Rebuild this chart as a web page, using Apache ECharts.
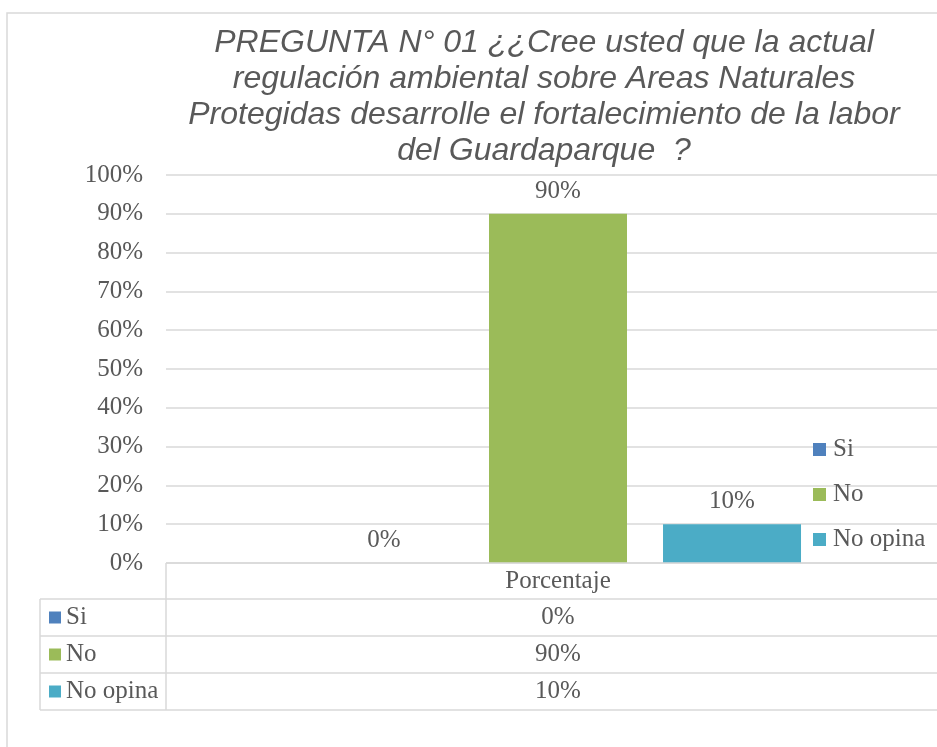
<!DOCTYPE html>
<html>
<head>
<meta charset="utf-8">
<script src="https://cdn.jsdelivr.net/npm/echarts@6/dist/echarts.min.js"></script>
<style>
html,body{margin:0;padding:0;background:#fff;}
#chart{width:937px;height:747px;}
</style>
</head>
<body>
<div id="chart"></div>
<script>
// ---- data ----
const titleText = 'PREGUNTA N° 01 ¿¿Cree usted que la actual\nregulación ambiental sobre Areas Naturales\nProtegidas desarrolle el fortalecimiento de la labor\ndel Guardaparque  ?';
const categories = ['Porcentaje'];
const seriesNames = ['Si', 'No', 'No opina'];
const seriesValues = [0, 90, 10];
const yTickMin = 0, yTickMax = 100, yTickStep = 10;

// ---- style ----
const colors = ['#4F81BD', '#9BBB59', '#4BACC6'];
const textColor = '#595959';
const lineColor = '#d9d9d9';
const serif = 'Liberation Serif';
const fs = 25;
const gridLeft = 166, gridTop = 175, gridBottom = 184;
const barGridLeft = 179; // plot area continues past the right edge of the picture
const headerH = 36, rowH = 37, tableLeft = 40;

const chart = echarts.init(document.getElementById('chart'));

const series = seriesNames.map((n, i) => ({
  name: n,
  type: 'bar',
  xAxisIndex: 1, yAxisIndex: 1,
  data: [seriesValues[i]],
  barWidth: 138,
  barGap: '26.1%',
  itemStyle: { color: colors[i] },
  label: {
    show: true, position: 'top', distance: 10,
    formatter: p => p.value + '%',
    color: textColor, fontFamily: serif, fontSize: fs
  }
}));

const yBase = { type: 'value', min: yTickMin, max: yTickMax, interval: yTickStep,
  axisLine: { show: false }, axisTick: { show: false } };

chart.setOption({
  animation: false,
  backgroundColor: '#fff',
  title: {
    text: titleText,
    left: 544, top: 25, padding: 0,
    textAlign: 'center',
    textStyle: {
      fontFamily: 'Liberation Sans', fontStyle: 'italic', fontWeight: 'normal',
      fontSize: 32, lineHeight: 36, color: textColor
    }
  },
  legend: {
    orient: 'vertical', left: 813, top: 437, padding: 0,
    itemWidth: 13, itemHeight: 13, itemGap: 20,
    icon: 'rect',
    data: seriesNames,
    textStyle: { fontFamily: serif, fontSize: fs, lineHeight: 24, color: textColor, padding: [0, 0, 0, 2] }
  },
  grid: [
    { left: gridLeft, right: 0, top: gridTop, bottom: gridBottom, containLabel: false },
    { left: barGridLeft, right: 0, top: gridTop, bottom: gridBottom, containLabel: false }
  ],
  xAxis: [
    { type: 'category', gridIndex: 0, data: categories, show: false },
    { type: 'category', gridIndex: 1, data: categories, show: false }
  ],
  yAxis: [
    Object.assign({}, yBase, { gridIndex: 0,
      axisLabel: { formatter: '{value}%', margin: 23, fontFamily: serif, fontSize: fs, color: textColor },
      splitLine: { lineStyle: { color: lineColor, width: 1.5 } } }),
    Object.assign({}, yBase, { gridIndex: 1, show: false, splitLine: { show: false } })
  ],
  series: series
});

// ---- data table under the axis ----
const cx = chart.convertToPixel({ xAxisIndex: 1 }, categories[0]);
const base = chart.convertToPixel({ yAxisIndex: 0 }, 0);
const W = 1100;
const g = [];
g.push({ type: 'rect', shape: { x: 7, y: 13, width: 1000, height: 800 },
  style: { fill: null, stroke: lineColor, lineWidth: 1.5 }, z: -1 });
const ln = (x1, y1, x2, y2) => g.push({ type: 'line', shape: { x1, y1, x2, y2 },
  style: { stroke: lineColor, lineWidth: 1.5 }, z: 10 });
const nRows = seriesNames.length;
const tableBottom = base + headerH + rowH * nRows;
ln(gridLeft, base, W, base);
for (let i = 0; i <= nRows; i++) {
  const y = base + headerH + rowH * i;
  ln(tableLeft, y, W, y);
}
ln(tableLeft, base + headerH, tableLeft, tableBottom);
ln(gridLeft, base, gridLeft, tableBottom);
const txt = (x, y, s, align) => g.push({ type: 'text', x, y, z: 11,
  style: { text: s, fill: textColor, font: fs + 'px "' + serif + '"', align: align, verticalAlign: 'middle' } });
txt(cx, base + headerH / 2, categories[0], 'center');
seriesNames.forEach((n, i) => {
  const my = base + headerH + rowH * i + rowH / 2;
  g.push({ type: 'rect', shape: { x: 49, y: my - 6, width: 12, height: 12 }, style: { fill: colors[i] }, z: 11 });
  txt(66, my, n, 'left');
  txt(cx, my, seriesValues[i] + '%', 'center');
});
chart.setOption({ graphic: g });
</script>
</body>
</html>
